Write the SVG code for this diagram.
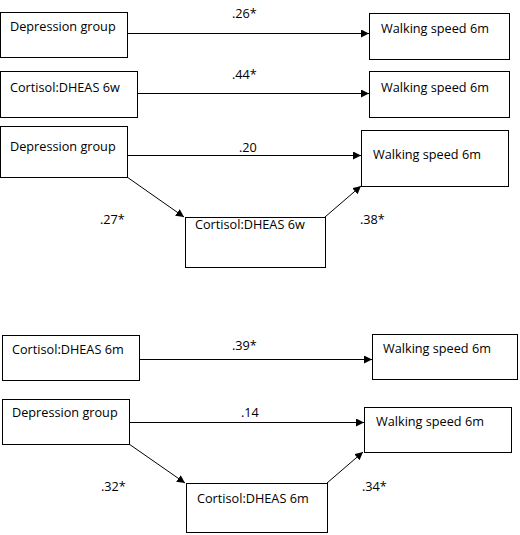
<svg xmlns="http://www.w3.org/2000/svg" width="520" height="535" viewBox="0 0 520 535">
<defs>
<marker id="ah" viewBox="0 0 10 10" refX="10" refY="5" markerWidth="8" markerHeight="8" markerUnits="userSpaceOnUse" orient="auto">
<path d="M0,0 L10,5 L0,10 z" fill="#000"/>
</marker>
<style>
.box{fill:#fff;stroke:#000;stroke-width:1}
.t{font-family:"Open Sans","Liberation Sans",sans-serif;font-size:12.7px;fill:#000}
.c{stroke:#000;stroke-width:1;fill:none;marker-end:url(#ah)}
</style>
</defs>
<rect width="520" height="535" fill="#fff"/>
<g id="connectors">
<line class="c" x1="127" y1="33.5" x2="369" y2="33.5"/>
<line class="c" x1="137" y1="93.5" x2="369" y2="93.5"/>
<line class="c" x1="127" y1="155.5" x2="361" y2="155.5"/>
<line class="c" x1="127" y1="177" x2="184" y2="217"/>
<line class="c" x1="325" y1="217" x2="361" y2="186"/>
<line class="c" x1="139" y1="359.5" x2="372" y2="359.5"/>
<line class="c" x1="129" y1="422.5" x2="364" y2="422.5"/>
<line class="c" x1="129" y1="444" x2="185" y2="483"/>
<line class="c" x1="327" y1="483" x2="363" y2="452"/>
</g>
<g id="labels">
<text class="t" x="232" y="18">.26*</text>
<text class="t" x="232" y="79">.44*</text>
<text class="t" x="239" y="152">.20</text>
<text class="t" x="100" y="224">.27*</text>
<text class="t" x="360" y="224">.38*</text>
<text class="t" x="232" y="350">.39*</text>
<text class="t" x="241" y="417">.14</text>
<text class="t" x="101" y="491">.32*</text>
<text class="t" x="362" y="491">.34*</text>
</g>
<g id="n1"><rect class="box" x="0.5" y="12.5" width="127" height="45"/><text class="t" x="10" y="31">Depression group</text></g>
<g id="n2"><rect class="box" x="369.5" y="13.5" width="140" height="46"/><text class="t" x="381" y="33">Walking speed 6m</text></g>
<g id="n3"><rect class="box" x="0.5" y="71.5" width="137" height="46"/><text class="t" x="10" y="92">Cortisol:DHEAS 6w</text></g>
<g id="n4"><rect class="box" x="369.5" y="71.5" width="140" height="46"/><text class="t" x="381" y="92">Walking speed 6m</text></g>
<g id="n5"><rect class="box" x="0.5" y="126.5" width="127" height="51"/><text class="t" x="10" y="151">Depression group</text></g>
<g id="n6"><rect class="box" x="361.5" y="130.5" width="147" height="56"/><text class="t" x="373" y="159">Walking speed 6m</text></g>
<g id="n7"><rect class="box" x="185.5" y="217.5" width="140" height="50"/><text class="t" x="195" y="229">Cortisol:DHEAS 6w</text></g>
<g id="n8"><rect class="box" x="2.5" y="335.5" width="137" height="45"/><text class="t" x="12" y="354">Cortisol:DHEAS 6m</text></g>
<g id="n9"><rect class="box" x="372.5" y="334.5" width="145" height="45"/><text class="t" x="383" y="353">Walking speed 6m</text></g>
<g id="n10"><rect class="box" x="2.5" y="399.5" width="127" height="45"/><text class="t" x="12" y="417">Depression group</text></g>
<g id="n11"><rect class="box" x="364.5" y="407.5" width="147" height="45"/><text class="t" x="376" y="426">Walking speed 6m</text></g>
<g id="n12"><rect class="box" x="186.5" y="483.5" width="141" height="49"/><text class="t" x="197" y="503">Cortisol:DHEAS 6m</text></g>
</svg>
